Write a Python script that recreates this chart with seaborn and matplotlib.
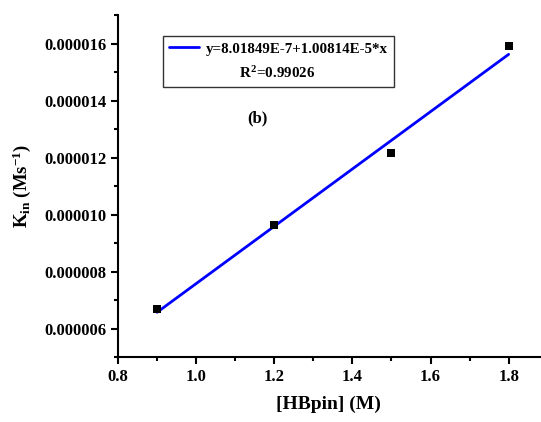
import matplotlib
matplotlib.use("Agg")
import matplotlib.pyplot as plt
from matplotlib.lines import Line2D
from matplotlib.ticker import FormatStrFormatter, MultipleLocator
import numpy as np
import pandas as pd
import seaborn as sns

sns.set_style("ticks")
plt.rcParams['font.family'] = ['Liberation Serif', 'DejaVu Serif']
plt.rcParams['font.weight'] = 'bold'
plt.rcParams['mathtext.fontset'] = 'custom'
plt.rcParams['mathtext.rm'] = 'Liberation Serif:bold'
plt.rcParams['mathtext.it'] = 'Liberation Serif:bold'
plt.rcParams['mathtext.bf'] = 'Liberation Serif:bold'
plt.rcParams['axes.unicode_minus'] = False
for k in ['text.color', 'axes.labelcolor', 'xtick.color', 'ytick.color']:
    plt.rcParams[k] = 'black'

# data
hbpin = [0.9, 1.2, 1.5, 1.8]
kin = [6.70e-6, 9.62e-6, 12.15e-6, 15.92e-6]
fit_label = "y=8.01849E-7+1.00814E-5*x"
r2_label = "R$^2$=0.99026"

df = pd.DataFrame({"hbpin": hbpin, "kin": kin})

fig = plt.figure(figsize=(5.41, 4.22), dpi=100)
ax = fig.add_axes([0.218, 0.154, 0.78, 0.81])

sns.regplot(data=df, x="hbpin", y="kin", ci=None, ax=ax, marker="s",
            scatter_kws=dict(color="black", s=40, zorder=3, linewidths=0, alpha=1),
            line_kws=dict(color="blue", lw=2, label=fit_label))

ax.set_xlim(0.8, 1.88)
ax.set_ylim(5e-6, 17e-6)
ax.xaxis.set_major_locator(MultipleLocator(0.2))
ax.xaxis.set_minor_locator(MultipleLocator(0.1))
ax.yaxis.set_major_locator(MultipleLocator(2e-6))
ax.yaxis.set_minor_locator(MultipleLocator(1e-6))
ax.yaxis.set_major_formatter(FormatStrFormatter('%.6f'))
ax.xaxis.set_major_formatter(FormatStrFormatter('%.1f'))

for s in ["top", "right"]:
    ax.spines[s].set_visible(False)
for s in ["left", "bottom"]:
    ax.spines[s].set_linewidth(1.5)
    ax.spines[s].set_color("black")
ax.tick_params(which="major", length=5, width=1.5, labelsize=12, colors="black")
ax.tick_params(which="minor", length=3, width=1.5, colors="black")

ax.set_xlabel("[HBpin] (M)", fontsize=14, fontweight="bold", labelpad=8)
ax.set_ylabel(r"K$_{\mathrm{in}}$ (Ms$^{\mathrm{-1}}$)", fontsize=13.5,
              fontweight="bold", labelpad=8)

handles = [ax.get_lines()[0], Line2D([], [], color="none")]
labels = [fit_label, "         " + r2_label]
leg = ax.legend(handles, labels, loc="upper left", bbox_to_anchor=(0.107, 0.94),
                borderaxespad=0, fontsize=10.8, frameon=True, fancybox=False,
                edgecolor="black", handlelength=2.0, handletextpad=0.45,
                borderpad=0.42, labelspacing=0.65)
leg.get_frame().set_linewidth(1)

ax.text(0.33, 0.699, "(b)", transform=ax.transAxes, fontsize=12,
        fontweight="bold", ha="center", va="center")

fig.savefig("out.png", dpi=100)
